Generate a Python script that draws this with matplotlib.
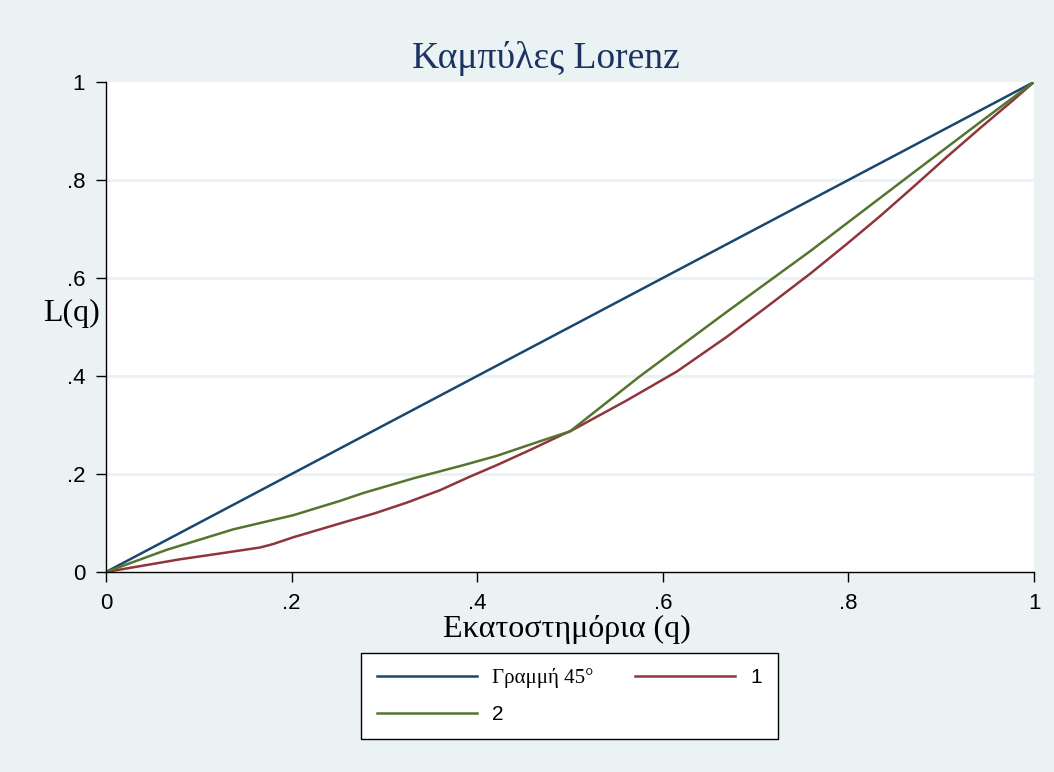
import matplotlib
matplotlib.use("Agg")
import matplotlib.pyplot as plt

# Lorenz curve data
q_line = [0.0, 1.0]
L_line = [0.0, 1.0]

q_1 = [0.0, 0.08, 0.12, 0.166, 0.18, 0.202, 0.252, 0.29, 0.324, 0.36, 0.392, 0.421,
       0.457, 0.4925, 0.5, 0.561, 0.615, 0.669, 0.712, 0.759, 0.798, 0.834, 0.87,
       0.906, 0.942, 0.977, 1.0]
L_1 = [0.0, 0.026, 0.037, 0.050, 0.057, 0.071, 0.099, 0.120, 0.1415, 0.167, 0.1945,
       0.218, 0.249, 0.281, 0.287, 0.350, 0.409, 0.480, 0.541, 0.609, 0.669, 0.726,
       0.786, 0.847, 0.906, 0.962, 1.0]

q_2 = [0.0, 0.065, 0.137, 0.202, 0.252, 0.277, 0.331, 0.385, 0.421, 0.471, 0.5,
       0.575, 0.669, 0.759, 0.87, 0.942, 1.0]
L_2 = [0.0, 0.045, 0.087, 0.116, 0.145, 0.161, 0.191, 0.218, 0.237, 0.269, 0.287,
       0.399, 0.531, 0.655, 0.815, 0.918, 1.0]

ticks = [0, 0.2, 0.4, 0.6, 0.8, 1.0]
tick_labels = ['0', '.2', '.4', '.6', '.8', '1']

bg = '#EAF2F3'
navy = '#1A476F'
maroon = '#90353B'
green = '#55752F'
serif = ['Liberation Serif', 'DejaVu Serif']
sans = ['Liberation Sans', 'DejaVu Sans']

W, H = 1054, 772
fig = plt.figure(figsize=(W / 100, H / 100), dpi=100, facecolor=bg)
ax = fig.add_axes([106 / W, 1 - 572 / H, 928 / W, 490 / H])
ax.set_facecolor('white')

ln0, = ax.plot(q_line, L_line, color=navy, lw=1.8, label='Γραμμή 45°')
ln1, = ax.plot(q_1, L_1, color=maroon, lw=1.8, label='1')
ln2, = ax.plot(q_2, L_2, color=green, lw=1.8, label='2')

ax.set_xlim(0, 1)
ax.set_ylim(0, 1)
ax.set_xticks(ticks)
ax.set_xticklabels(tick_labels)
ax.set_yticks(ticks)
ax.set_yticklabels(tick_labels)
for t in ax.get_xticklabels() + ax.get_yticklabels():
    t.set_family(sans)
    t.set_fontsize(16)
ax.tick_params(direction='out', length=7, width=1, color='black', pad=8)

for g in ticks[1:-1]:
    ax.axhline(g, color=bg, lw=2.2, zorder=0.5)

for s in ['top', 'right']:
    ax.spines[s].set_visible(False)
for s in ['left', 'bottom']:
    ax.spines[s].set_color('black')
    ax.spines[s].set_linewidth(1.0)

fig.text(546 / W, 1 - 68 / H, 'Καμπύλες Lorenz', ha='center', va='baseline',
         family=serif, fontsize=27, color='#1C3361')
fig.text(567 / W, 1 - 637 / H, 'Εκατοστημόρια (q)', ha='center', va='baseline',
         family=serif, fontsize=23)
fig.text(72 / W, 1 - 313 / H, 'L(q)', ha='center', va='center',
         family=serif, fontsize=23)

leg = fig.legend([ln0, ln2, ln1], ['Γραμμή 45°', '2', '1'], ncol=2,
                 loc='center', bbox_to_anchor=(361 / W, 1 - 739 / H, 417 / W, 86 / H),
                 mode='expand', borderaxespad=0, borderpad=0.75, labelspacing=0.8,
                 handlelength=4.8, handletextpad=0.75, fancybox=False,
                 framealpha=1, edgecolor='black', prop={'family': sans, 'size': 15})
leg.get_frame().set_linewidth(1.0)
leg.get_texts()[0].set_family(serif)
leg.get_texts()[0].set_fontsize(15)

fig.savefig('out.png', dpi=100, facecolor=bg)
